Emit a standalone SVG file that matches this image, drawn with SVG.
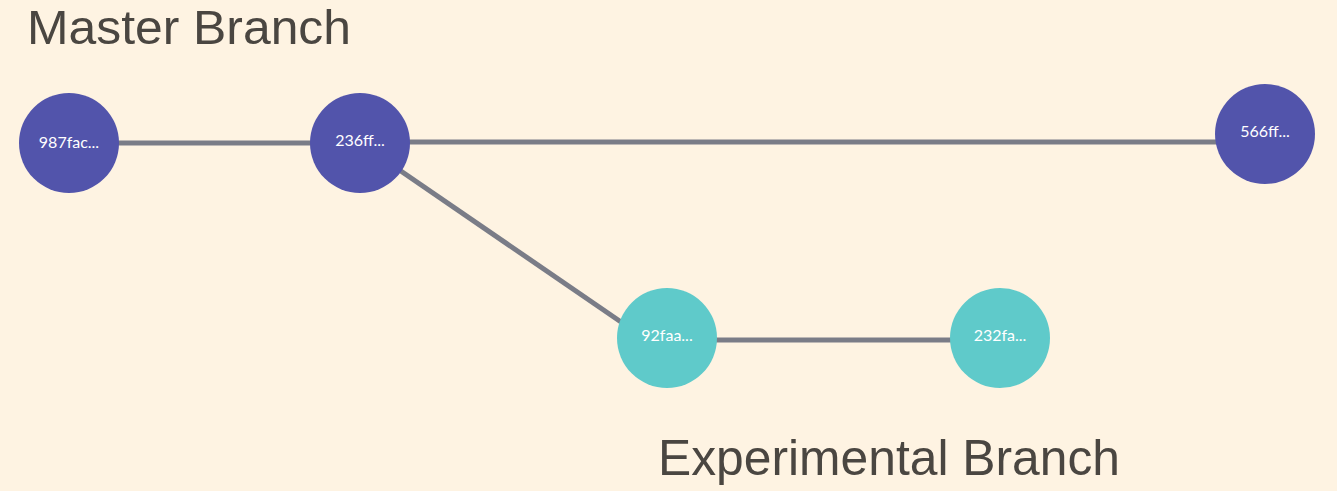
<svg xmlns="http://www.w3.org/2000/svg" width="1337" height="491" viewBox="0 0 1337 491">
  <style>
    .bg { fill: #fef3e2; }
    .edge { stroke: #7a7c87; stroke-width: 5; fill: none; }
    .master { fill: #5254ab; }
    .exp { fill: #5fcaca; }
    .lbl { fill: #ffffff; font-family: "Lato", "Liberation Sans", sans-serif; font-size: 16px; text-anchor: middle; }
    .title { fill: #4a4641; font-family: "Liberation Sans", "Lato", sans-serif; font-size: 50px; }
  </style>
  <rect class="bg" x="0" y="0" width="1337" height="491"/>
  <g id="connectors">
    <line class="edge" x1="69" y1="143" x2="360" y2="143"/>
    <line class="edge" x1="360" y1="142" x2="1265" y2="142"/>
    <line class="edge" x1="360" y1="143" x2="640" y2="335"/>
    <line class="edge" x1="667" y1="340" x2="1000" y2="340"/>
  </g>
  <g id="title-master">
    <text class="title" x="27" y="44" style="font-size:48px" textLength="324" lengthAdjust="spacingAndGlyphs">Master Branch</text>
  </g>
  <g id="title-experimental">
    <text class="title" x="658" y="475" textLength="462" lengthAdjust="spacingAndGlyphs">Experimental Branch</text>
  </g>
  <g id="node-987fac">
    <circle class="master" cx="69" cy="143" r="50"/>
    <text class="lbl" x="69" y="148">987fac...</text>
  </g>
  <g id="node-236ff">
    <circle class="master" cx="360" cy="143" r="50"/>
    <text class="lbl" x="360" y="146">236ff...</text>
  </g>
  <g id="node-566ff">
    <circle class="master" cx="1265" cy="134" r="50"/>
    <text class="lbl" x="1265" y="137">566ff...</text>
  </g>
  <g id="node-92faa">
    <circle class="exp" cx="667" cy="338" r="50"/>
    <text class="lbl" x="667" y="341">92faa...</text>
  </g>
  <g id="node-232fa">
    <circle class="exp" cx="1000" cy="338" r="50"/>
    <text class="lbl" x="1000" y="341">232fa...</text>
  </g>
</svg>
